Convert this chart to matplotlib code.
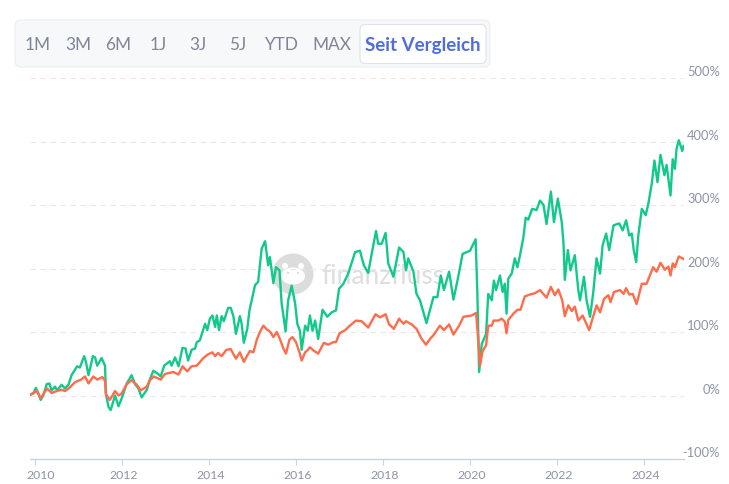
import matplotlib
matplotlib.use('Agg')
import matplotlib.pyplot as plt
from matplotlib.patches import FancyBboxPatch, Circle, Ellipse

# -------- DATA (decimal year, performance in %) --------
green_t = [2009.885, 2009.96, 2010.02, 2010.08, 2010.13, 2010.19, 2010.27, 2010.33, 2010.38, 2010.46, 2010.51, 2010.61, 2010.69, 2010.77, 2010.84, 2010.97, 2011.03, 2011.13, 2011.17, 2011.23, 2011.33, 2011.38, 2011.43, 2011.53, 2011.61, 2011.63, 2011.69, 2011.74, 2011.84, 2011.92, 2011.99,
           2012.11, 2012.22, 2012.30, 2012.38, 2012.45, 2012.57, 2012.64, 2012.72, 2012.83, 2012.89, 2012.97, 2013.10, 2013.14, 2013.22, 2013.30, 2013.39, 2013.46, 2013.52, 2013.60, 2013.68, 2013.72, 2013.79, 2013.91, 2013.96,
           2014.02, 2014.08, 2014.14, 2014.18, 2014.23, 2014.29, 2014.34, 2014.44, 2014.50, 2014.56, 2014.62, 2014.71, 2014.75, 2014.80, 2014.88, 2014.93, 2015.06, 2015.13, 2015.21, 2015.29, 2015.36, 2015.40, 2015.48, 2015.54, 2015.62, 2015.67, 2015.71, 2015.76, 2015.82, 2015.90, 2015.98,
           2016.03, 2016.09, 2016.13, 2016.21, 2016.27, 2016.32, 2016.38, 2016.44, 2016.51, 2016.61, 2016.72, 2016.82, 2016.92, 2016.99, 2017.09, 2017.20, 2017.36, 2017.47, 2017.56, 2017.66, 2017.74, 2017.84, 2017.89, 2017.97,
           2018.06, 2018.12, 2018.24, 2018.37, 2018.47, 2018.53, 2018.58, 2018.70, 2018.77, 2018.85, 2019.00, 2019.16, 2019.25, 2019.33, 2019.40, 2019.52, 2019.62, 2019.73, 2019.83, 2020.00,
           2020.08, 2020.13, 2020.17, 2020.21, 2020.27, 2020.37, 2020.42, 2020.50, 2020.55, 2020.60, 2020.69, 2020.75, 2020.80, 2020.84, 2020.88, 2020.96, 2021.03, 2021.09, 2021.15, 2021.23, 2021.28, 2021.34, 2021.43, 2021.53, 2021.61, 2021.69, 2021.76, 2021.86, 2021.93,
           2022.02, 2022.11, 2022.15, 2022.18, 2022.25, 2022.31, 2022.41, 2022.49, 2022.53, 2022.62, 2022.68, 2022.76, 2022.83, 2022.91, 2022.99, 2023.05, 2023.13, 2023.20, 2023.30, 2023.43, 2023.51, 2023.59, 2023.66, 2023.72, 2023.76, 2023.82, 2023.87, 2023.95,
           2024.04, 2024.10, 2024.18, 2024.24, 2024.31, 2024.38, 2024.47, 2024.52, 2024.61, 2024.66, 2024.71, 2024.75, 2024.80, 2024.88, 2024.91]
green_v = [1, 3, 12, 3, -7, 0, 18, 19, 8, 14, 8, 17, 11, 17, 32, 46, 44, 62, 53, 32, 62, 60, 47, 59, 47, 3, -18, -23, 0, -17, -5,
           19, 32, 18, 11, -3, 9, 25, 39, 34, 30, 47, 54, 47, 60, 46, 75, 74, 55, 72, 74, 84, 87, 113, 103,
           121, 126, 108, 126, 103, 125, 117, 138, 138, 125, 97, 125, 113, 83, 105, 134, 174, 179, 231, 243, 205, 218, 177, 202, 197, 145, 126, 101, 150, 173, 145,
           113, 102, 72, 110, 102, 126, 102, 118, 89, 135, 124, 131, 134, 168, 176, 192, 226, 228, 205, 193, 223, 259, 239, 239,
           256, 208, 187, 233, 226, 197, 216, 195, 160, 150, 114, 155, 155, 189, 166, 195, 151, 187, 223, 228,
           239, 246, 160, 37, 81, 97, 160, 150, 181, 166, 189, 163, 176, 129, 184, 192, 216, 202, 221, 250, 280, 277, 294, 292, 307, 300, 270, 321, 273,
           310, 273, 239, 182, 229, 197, 221, 166, 150, 187, 150, 124, 160, 216, 192, 237, 255, 229, 268, 271, 260, 276, 252, 255, 231, 210, 252, 294,
           284, 302, 334, 370, 336, 379, 347, 363, 315, 372, 357, 389, 402, 385, 393]

orange_t = [2009.885, 2010.04, 2010.13, 2010.28, 2010.38, 2010.50, 2010.61, 2010.69, 2010.79, 2010.92, 2011.06, 2011.15, 2011.23, 2011.34, 2011.43, 2011.55, 2011.61, 2011.63, 2011.72, 2011.84, 2011.92, 2011.99,
            2012.11, 2012.22, 2012.34, 2012.43, 2012.57, 2012.64, 2012.73, 2012.89, 2012.99, 2013.18, 2013.30, 2013.39, 2013.50, 2013.60, 2013.72, 2013.87, 2013.98,
            2014.08, 2014.14, 2014.21, 2014.29, 2014.40, 2014.50, 2014.62, 2014.71, 2014.80, 2014.88, 2014.94, 2015.02, 2015.10, 2015.17, 2015.25, 2015.33, 2015.40, 2015.48, 2015.56, 2015.63, 2015.71, 2015.77, 2015.85, 2015.92,
            2016.00, 2016.08, 2016.13, 2016.21, 2016.26, 2016.32, 2016.40, 2016.51, 2016.64, 2016.74, 2016.86, 2016.92, 2017.00, 2017.13, 2017.24, 2017.38, 2017.51, 2017.66, 2017.83, 2017.93,
            2018.06, 2018.14, 2018.25, 2018.37, 2018.47, 2018.53, 2018.66, 2018.77, 2018.89, 2018.99, 2019.08, 2019.16, 2019.31, 2019.40, 2019.52, 2019.62, 2019.75, 2019.85,
            2020.04, 2020.14, 2020.19, 2020.23, 2020.29, 2020.37, 2020.42, 2020.50, 2020.54, 2020.65, 2020.73, 2020.80, 2020.84, 2020.88, 2021.00, 2021.09, 2021.16, 2021.26, 2021.38, 2021.49, 2021.61, 2021.76, 2021.86, 2021.95,
            2022.03, 2022.12, 2022.18, 2022.26, 2022.34, 2022.41, 2022.49, 2022.59, 2022.74, 2022.83, 2022.91, 2022.99, 2023.08, 2023.18, 2023.23, 2023.31, 2023.45, 2023.53, 2023.59, 2023.66, 2023.74, 2023.83, 2023.95,
            2024.06, 2024.21, 2024.29, 2024.38, 2024.48, 2024.56, 2024.61, 2024.66, 2024.71, 2024.80, 2024.91]
orange_v = [1, 7, -4, 11, 4, 7, 9, 7, 12, 21, 25, 30, 19, 30, 25, 29, 23, 2, -7, 7, 0, 3,
            18, 24, 17, 8, 14, 24, 30, 25, 34, 37, 33, 46, 38, 46, 47, 59, 65,
            68, 62, 67, 62, 72, 73, 58, 68, 53, 63, 70, 68, 88, 100, 110, 104, 101, 92, 100, 89, 74, 66, 88, 92,
            84, 68, 55, 68, 71, 76, 71, 66, 83, 80, 84, 84, 98, 103, 110, 118, 117, 107, 128, 123,
            128, 112, 105, 121, 113, 117, 112, 105, 89, 80, 89, 95, 110, 103, 112, 96, 110, 124,
            126, 130, 87, 47, 70, 79, 110, 110, 118, 118, 121, 116, 98, 119, 129, 135, 135, 156, 159, 161, 166, 154, 171, 158,
            167, 150, 125, 142, 133, 140, 118, 126, 103, 124, 142, 131, 152, 158, 147, 163, 166, 160, 169, 159, 160, 144, 176,
            176, 202, 195, 209, 198, 203, 189, 208, 202, 219, 215]

x_ticks = [2010, 2012, 2014, 2016, 2018, 2020, 2022, 2024]
y_ticks = [-100, 0, 100, 200, 300, 400, 500]
range_buttons = ['1M', '3M', '6M', '1J', '3J', '5J', 'YTD', 'MAX']
active_button = 'Seit Vergleich'

# -------- STYLE --------
W, H = 729, 484
LABEL = '#8b93a7'
GREEN = '#12c98b'
ORANGE = '#ff6c4c'

plt.rcParams['font.family'] = 'Lato'
fig = plt.figure(figsize=(W / 100, H / 100), dpi=100)

# overlay in pixel coordinates for toolbar and watermark
bg = fig.add_axes([0, 0, 1, 1], zorder=0)
bg.set_xlim(0, W)
bg.set_ylim(H, 0)
bg.axis('off')

# watermark
bg.add_patch(Circle((293, 274), 20.5, fc='#dcdcdc', ec='none'))
bg.add_patch(Ellipse((293, 276), 24, 17, fc='white', ec='none'))
bg.add_patch(Circle((285, 266), 3, fc='white', ec='none'))
bg.add_patch(Circle((301, 266), 3, fc='white', ec='none'))
bg.add_patch(Circle((288, 273), 1.1, fc='#dcdcdc', ec='none'))
bg.add_patch(Circle((298, 273), 1.1, fc='#dcdcdc', ec='none'))
bg.text(321, 276, 'finanzfluss', fontsize=18.9, color='#dedede', va='center', ha='left')

# toolbar
bg.add_patch(FancyBboxPatch((15, 20), 475, 47, boxstyle='round,pad=0,rounding_size=6',
                            fc='#f7f8f9', ec='#eceef0', lw=0.8))
bg.add_patch(FancyBboxPatch((360, 24.5), 126, 39, boxstyle='round,pad=0,rounding_size=5',
                            fc='white', ec='#dfe2e8', lw=0.8))
btn_x = [38, 78, 118, 158, 198, 238, 281, 332]
for name, xp in zip(range_buttons, btn_x):
    bg.text(xp, 45, name, fontsize=12.4, color='#7d8598', ha='center', va='center')
bg.text(423, 45, active_button, fontsize=13.5, color='#4f6ce0', fontweight='bold', ha='center', va='center')

# -------- CHART --------
ax = fig.add_axes([30 / W, 1 - 459 / H, (684 - 30) / W, (459 - 78) / H], zorder=1)
ax.patch.set_alpha(0)
ax.set_xlim(2009.885, 2024.92)
ax.set_ylim(-100, 500)

ax.plot(green_t, green_v, color=GREEN, lw=1.7, solid_joinstyle='round', zorder=3)
ax.plot(orange_t, orange_v, color=ORANGE, lw=1.7, solid_joinstyle='round', zorder=4)

for y in y_ticks[1:]:
    ax.axhline(y, color='#e6e8ec', lw=0.8, dashes=(5, 4), zorder=1)

for s in ['top', 'left', 'right']:
    ax.spines[s].set_visible(False)
ax.spines['bottom'].set_color('#c8d3ea')
ax.spines['bottom'].set_linewidth(1)

ax.set_xticks(x_ticks)
ax.set_xticklabels([])
ax.tick_params(axis='x', length=4, width=0.8, color='#c8d3ea')
for yr in x_ticks:
    # the first label is pushed right to stay inside the frame
    ax.annotate(str(yr), (yr, -100), xytext=(4 if yr == 2010 else 1, -12), textcoords='offset points',
                fontsize=8.8, color=LABEL, ha='center', va='center', annotation_clip=False)

# y labels sit a bit above their gridline, right aligned
ax.set_yticks([])
for y in y_ticks:
    ax.annotate(f'{y}%', (2024.92, y), xytext=(26, 4.3), textcoords='offset points',
                fontsize=9.3, color=LABEL, ha='right', va='center', annotation_clip=False)

fig.savefig('out.png', dpi=100)
